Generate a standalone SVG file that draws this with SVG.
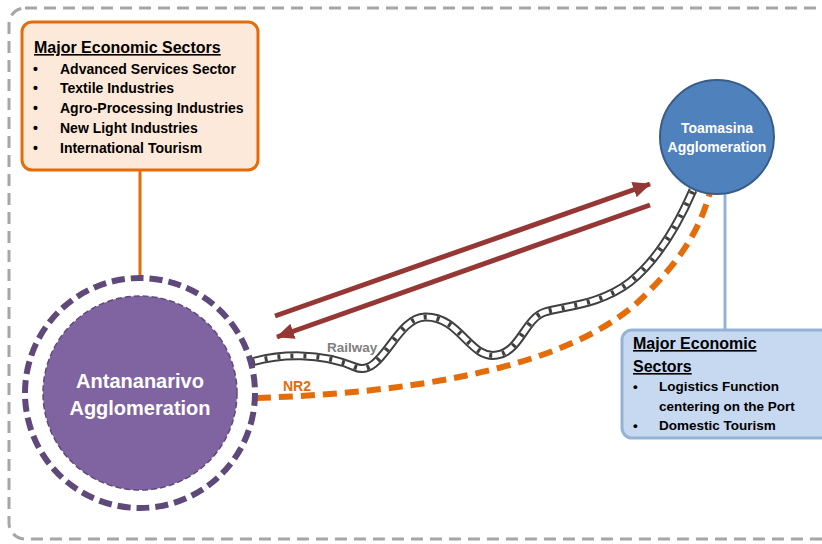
<svg xmlns="http://www.w3.org/2000/svg" width="822" height="544" viewBox="0 0 822 544">
  <style>
    text { font-family: "Liberation Sans", Arial, sans-serif; font-weight: bold; }
    .item { font-size: 14px; fill: #000; }
    .title { font-size: 16px; fill: #000; text-decoration: underline; }
    .city { fill: #fff; text-anchor: middle; }
    .flow { fill: none; stroke: #953735; stroke-width: 5; }
  </style>
  <defs>
    <marker id="head" markerUnits="userSpaceOnUse" markerWidth="18" markerHeight="16" refX="17" refY="8" orient="auto">
      <path d="M0,0 L18,8 L0,16 Z" fill="#953735"/>
    </marker>
  </defs>

  <!-- frame -->
  <rect x="9" y="8" width="840" height="531" rx="16" fill="none" stroke="#a6a6a6" stroke-width="3" stroke-dasharray="12 7"/>

  <g id="connectors">
    <!-- box links -->
    <line x1="140" y1="170" x2="140" y2="278" stroke="#e46c0a" stroke-width="3"/>
    <line x1="725" y1="194" x2="725" y2="330" stroke="#95b3d7" stroke-width="3"/>
    <!-- flows between agglomerations -->
    <line class="flow" x1="275" y1="316" x2="650" y2="184" marker-end="url(#head)"/>
    <line class="flow" x1="650" y1="205" x2="277" y2="337" marker-end="url(#head)"/>
    <!-- NR2 road -->
    <path d="M257,398 C400,393 560,372 638,302 C680,262 700,230 710,192" fill="none" stroke="#e46c0a" stroke-width="6" stroke-dasharray="14 8"/>
    <!-- railway -->
    <g fill="none">
      <path id="rail" d="M252,362 C280,354 320,352 355,367 C382,379 395,318 425,317 C460,316 470,360 497,355 C520,352 525,318 545,312 C565,306 600,305 630,282 C660,258 680,220 693,190" stroke="#404040" stroke-width="9"/>
      <path d="M252,362 C280,354 320,352 355,367 C382,379 395,318 425,317 C460,316 470,360 497,355 C520,352 525,318 545,312 C565,306 600,305 630,282 C660,258 680,220 693,190" stroke="#fff" stroke-width="5"/>
      <path d="M252,362 C280,354 320,352 355,367 C382,379 395,318 425,317 C460,316 470,360 497,355 C520,352 525,318 545,312 C565,306 600,305 630,282 C660,258 680,220 693,190" stroke="#404040" stroke-width="5" stroke-dasharray="3 10"/>
    </g>
    <text x="327" y="352" font-size="13.5" fill="#808080">Railway</text>
    <text x="283" y="391" font-size="14" fill="#e46c0a">NR2</text>
  </g>

  <g id="sectors-antananarivo">
    <rect x="22" y="22" width="236" height="148" rx="10" fill="#fde9d9" stroke="#e46c0a" stroke-width="3"/>
    <text class="title" x="34" y="53">Major Economic Sectors</text>
    <g class="item">
      <text x="33" y="74">•</text><text x="60" y="74">Advanced Services Sector</text>
      <text x="33" y="93">•</text><text x="60" y="93">Textile Industries</text>
      <text x="33" y="113">•</text><text x="60" y="113">Agro-Processing Industries</text>
      <text x="33" y="133">•</text><text x="60" y="133">New Light Industries</text>
      <text x="33" y="153">•</text><text x="60" y="153">International Tourism</text>
    </g>
  </g>

  <g id="antananarivo">
    <circle cx="140" cy="393" r="115" fill="none" stroke="#5f497a" stroke-width="6" stroke-dasharray="13 6"/>
    <circle cx="140" cy="393" r="97" fill="#8064a2" stroke="#5f497a" stroke-width="1.5" stroke-dasharray="6 3"/>
    <text class="city" x="140" y="388" font-size="20">Antananarivo</text>
    <text class="city" x="140" y="415" font-size="20">Agglomeration</text>
  </g>

  <g id="toamasina">
    <circle cx="717" cy="137" r="57" fill="#4f81bd" stroke="#385d8a" stroke-width="2"/>
    <text class="city" x="717" y="133" font-size="14">Toamasina</text>
    <text class="city" x="717" y="152" font-size="14">Agglomeration</text>
  </g>

  <g id="sectors-toamasina">
    <rect x="622" y="330" width="210" height="108" rx="10" fill="#c6d9f1" stroke="#95b3d7" stroke-width="3"/>
    <text class="title" x="633" y="349">Major Economic</text>
    <text class="title" x="633" y="372">Sectors</text>
    <g class="item" font-size="13.5">
      <text x="633" y="391" font-size="13.5">•</text><text x="659" y="391" font-size="13.5">Logistics Function</text>
      <text x="659" y="411" font-size="13.5">centering on the Port</text>
      <text x="633" y="430" font-size="13.5">•</text><text x="659" y="430" font-size="13.5">Domestic Tourism</text>
    </g>
  </g>
</svg>
